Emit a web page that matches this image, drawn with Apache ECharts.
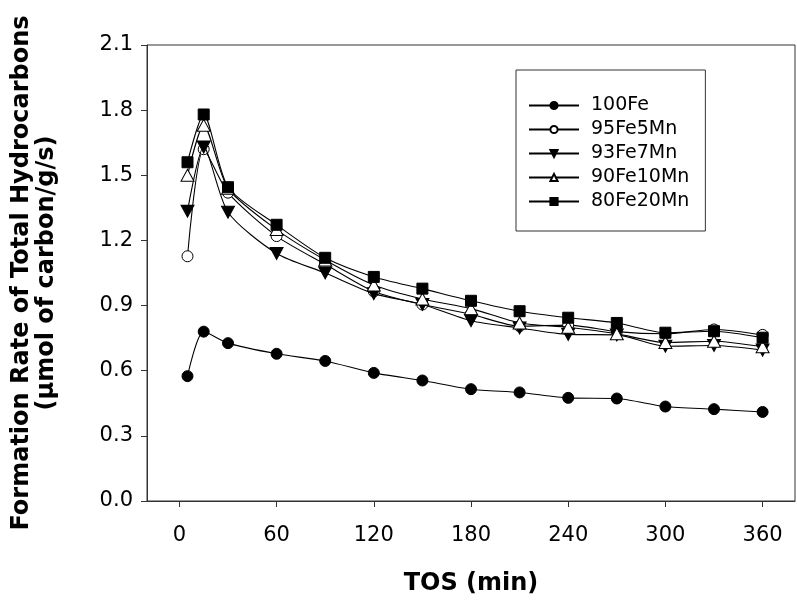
<!DOCTYPE html>
<html>
<head>
<meta charset="utf-8">
<script src="https://cdn.jsdelivr.net/npm/echarts@6/dist/echarts.min.js"></script>
<style>
html,body{margin:0;padding:0;background:#fff;}
#chart{width:797px;height:601px;}
</style>
</head>
<body>
<div id="chart"></div>
<script>
var tos = [5, 15, 30, 60, 90, 120, 150, 180, 210, 240, 270, 300, 330, 360];
var fe100   = [0.575, 0.78, 0.727, 0.678, 0.645, 0.59, 0.555, 0.515, 0.50, 0.475, 0.472, 0.435, 0.423, 0.41];
var fe95mn5 = [1.127, 1.62, 1.42, 1.22, 1.09, 0.965, 0.905, 0.86, 0.805, 0.81, 0.78, 0.77, 0.79, 0.765];
var fe93mn7 = [1.335, 1.63, 1.33, 1.14, 1.05, 0.955, 0.905, 0.83, 0.797, 0.767, 0.765, 0.713, 0.716, 0.695];
var fe90mn10 = [1.50, 1.73, 1.44, 1.25, 1.11, 0.995, 0.93, 0.886, 0.82, 0.80, 0.77, 0.73, 0.736, 0.71];
var fe80mn20 = [1.56, 1.78, 1.445, 1.272, 1.12, 1.032, 0.978, 0.922, 0.874, 0.844, 0.82, 0.775, 0.782, 0.752];
var seriesNames = ['100Fe', '95Fe5Mn', '93Fe7Mn', '90Fe10Mn', '80Fe20Mn'];
var xTicks = [0, 60, 120, 180, 240, 300, 360];

var FONT = '"DejaVu Sans", Arial, sans-serif';
function pairs(vals) { return tos.map(function (t, i) { return [t, vals[i]]; }); }

var styles = [
  { symbol: 'circle', size: 11, fill: '#000' },
  { symbol: 'circle', size: 11, fill: '#fff' },
  { symbol: 'path://M0,0 L10,0 L5,9 Z', size: [13, 12], fill: '#000' },
  { symbol: 'triangle', size: [13, 12], fill: '#fff' },
  { symbol: 'rect', size: 11, fill: '#000' }
];
var data = [fe100, fe95mn5, fe93mn7, fe90mn10, fe80mn20];

var series = data.map(function (vals, i) {
  return {
    name: seriesNames[i],
    type: 'line',
    data: pairs(vals),
    smooth: 0.25,
    symbol: styles[i].symbol,
    symbolSize: styles[i].size,
    lineStyle: { color: '#000', width: 1.1 },
    itemStyle: { color: styles[i].fill, borderColor: '#000', borderWidth: 1 },
    z: 2 + i
  };
});

var chart = echarts.init(document.getElementById('chart'), null, { renderer: 'canvas' });
chart.setOption({
  animation: false,
  backgroundColor: '#fff',
  grid: { left: 147, right: 2, top: 45, bottom: 99, show: true, borderColor: '#333', borderWidth: 1 },
  legend: {
    orient: 'vertical',
    left: 516, top: 70,
    padding: [26, 16, 20, 12],
    itemWidth: 50, itemHeight: 9, itemGap: 5,
    borderColor: '#333', borderWidth: 1,
    textStyle: { fontFamily: FONT, fontSize: 19, color: '#000', padding: [0, 0, 0, 7], lineHeight: 19 },
    data: seriesNames
  },
  xAxis: {
    type: 'value', min: -20, max: 380,
    name: 'TOS (min)', nameLocation: 'middle', nameGap: 71,
    nameTextStyle: { fontFamily: FONT, fontSize: 24, fontWeight: 'bold', color: '#000' },
    axisLine: { show: true, onZero: false, lineStyle: { color: '#333', width: 1 } },
    axisTick: { show: true, inside: false, length: 6, lineStyle: { color: '#333' }, customValues: xTicks },
    axisLabel: { fontFamily: FONT, fontSize: 21, color: '#000', margin: 24, customValues: xTicks },
    splitLine: { show: false }
  },
  yAxis: {
    type: 'value', min: 0, max: 2.1, interval: 0.3,
    name: 'Formation Rate of Total Hydrocarbons\n(\u00b5mol of carbon/g/s)', nameLocation: 'middle', nameGap: 88, nameRotate: 90,
    nameTextStyle: { fontFamily: FONT, fontSize: 24, fontWeight: 'bold', color: '#000', lineHeight: 25 },
    axisLine: { show: true, onZero: false, lineStyle: { color: '#333', width: 1 } },
    axisTick: { show: true, inside: false, length: 6, lineStyle: { color: '#333' } },
    axisLabel: { fontFamily: FONT, fontSize: 21, color: '#000', margin: 14, formatter: function (v) { return v.toFixed(1); } },
    splitLine: { show: false }
  },
  series: series
});
</script>
</body>
</html>
